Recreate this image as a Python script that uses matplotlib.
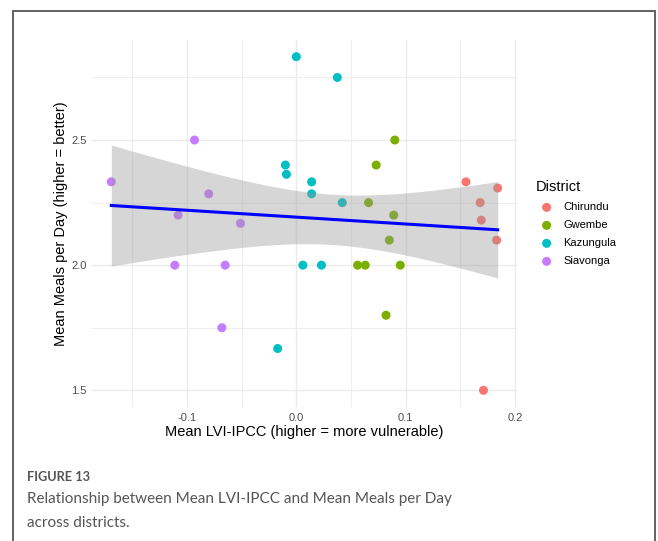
import numpy as np
import matplotlib
matplotlib.use("Agg")
import matplotlib.pyplot as plt
from matplotlib.patches import Rectangle
from matplotlib.ticker import MultipleLocator

plt.rcParams['font.family'] = ['Liberation Sans', 'DejaVu Sans']

# ---- data (Mean LVI-IPCC, Mean meals per day) ----
districts = ["Chirundu", "Gwembe", "Kazungula", "Siavonga"]
colors = ["#F8766D", "#7CAE00", "#00BFC4", "#C77CFF"]

chirundu_x = [0.155, 0.184, 0.168, 0.169, 0.183, 0.171]
chirundu_y = [2.333, 2.308, 2.25, 2.18, 2.1, 1.5]
gwembe_x = [0.090, 0.073, 0.066, 0.089, 0.085, 0.056, 0.063, 0.095, 0.082]
gwembe_y = [2.5, 2.4, 2.25, 2.2, 2.1, 2.0, 2.0, 2.0, 1.8]
kazungula_x = [0.000, 0.0375, -0.010, -0.009, 0.014, 0.014, 0.042, 0.006, 0.023, -0.017]
kazungula_y = [2.833, 2.75, 2.4, 2.363, 2.333, 2.285, 2.25, 2.0, 2.0, 1.667]
siavonga_x = [-0.093, -0.169, -0.080, -0.108, -0.051, -0.111, -0.065, -0.068]
siavonga_y = [2.5, 2.333, 2.285, 2.2, 2.167, 2.0, 2.0, 1.75]

xs = [chirundu_x, gwembe_x, kazungula_x, siavonga_x]
ys = [chirundu_y, gwembe_y, kazungula_y, siavonga_y]

fig = plt.figure(figsize=(6.58, 5.41), dpi=100)
ax = fig.add_axes([92 / 658, 1 - 407 / 541, 425 / 658, 367 / 541])

for name, c, x, y in zip(districts, colors, xs, ys):
    ax.scatter(x, y, s=42, color=c, edgecolors="none", label=name, zorder=2)

# linear fit with 95% confidence band (like geom_smooth(method="lm"))
allx = np.concatenate([np.array(v) for v in xs])
ally = np.concatenate([np.array(v) for v in ys])
n = len(allx)
b, a = np.polyfit(allx, ally, 1)
resid = ally - (a + b * allx)
s = np.sqrt(np.sum(resid ** 2) / (n - 2))
sxx = np.sum((allx - allx.mean()) ** 2)
t_crit = 2.0395  # t(0.975, df=31)
gx = np.linspace(allx.min(), allx.max(), 100)
gy = a + b * gx
se = s * np.sqrt(1 / n + (gx - allx.mean()) ** 2 / sxx)
ax.fill_between(gx, gy - t_crit * se, gy + t_crit * se, color="#999999",
                alpha=0.4, linewidth=0, zorder=3)
ax.plot(gx, gy, color="#0000FF", linewidth=2.2, zorder=4)

ax.xaxis.set_major_locator(MultipleLocator(0.1))
ax.xaxis.set_minor_locator(MultipleLocator(0.05))
ax.yaxis.set_major_locator(MultipleLocator(0.5))
ax.yaxis.set_minor_locator(MultipleLocator(0.25))
ax.set_xticks([-0.1, 0.0, 0.1, 0.2])
ax.set_xticklabels(["-0.1", "0.0", "0.1", "0.2"])
ax.set_yticks([1.5, 2.0, 2.5])
ax.set_yticklabels(["1.5", "2.0", "2.5"])
ax.grid(True, which="major", color="#EBEBEB", linewidth=1.0, zorder=0)
ax.grid(True, which="minor", color="#EFEFEF", linewidth=0.8, zorder=0)
ax.set_axisbelow(True)
ax.tick_params(which="both", length=0, labelsize=8, labelcolor="#4D4D4D", pad=4)
for sp in ax.spines.values():
    sp.set_visible(False)

ax.set_xlabel("Mean LVI-IPCC (higher = more vulnerable)", fontsize=10.5, labelpad=2)
ax.set_ylabel("Mean Meals per Day (higher = better)", fontsize=10.5, labelpad=2)

leg = ax.legend(title="District", loc="upper left", bbox_to_anchor=(1.02, 0.645),
                frameon=False, fontsize=8, title_fontsize=10.5, handletextpad=0.5,
                labelspacing=0.72, markerscale=1.0, alignment="left")

# frame around figure panel and caption
fig.patches.append(Rectangle((13 / 658, -0.01), (655 - 13) / 658, 1 - 11 / 541 + 0.01,
                             transform=fig.transFigure, fill=False,
                             edgecolor="#555555", linewidth=1.3))
fig.text(27 / 658, 1 - 477 / 541, "FIGURE 13", fontsize=9.2, color="#555555",
         fontweight="bold", family="Lato", va="center")
fig.text(27 / 658, 1 - 499 / 541, "Relationship between Mean LVI-IPCC and Mean Meals per Day",
         fontsize=11, color="#555555", family="Lato", va="center")
fig.text(27 / 658, 1 - 523 / 541, "across districts.",
         fontsize=11, color="#555555", family="Lato", va="center")

fig.savefig("out.png", dpi=100)
